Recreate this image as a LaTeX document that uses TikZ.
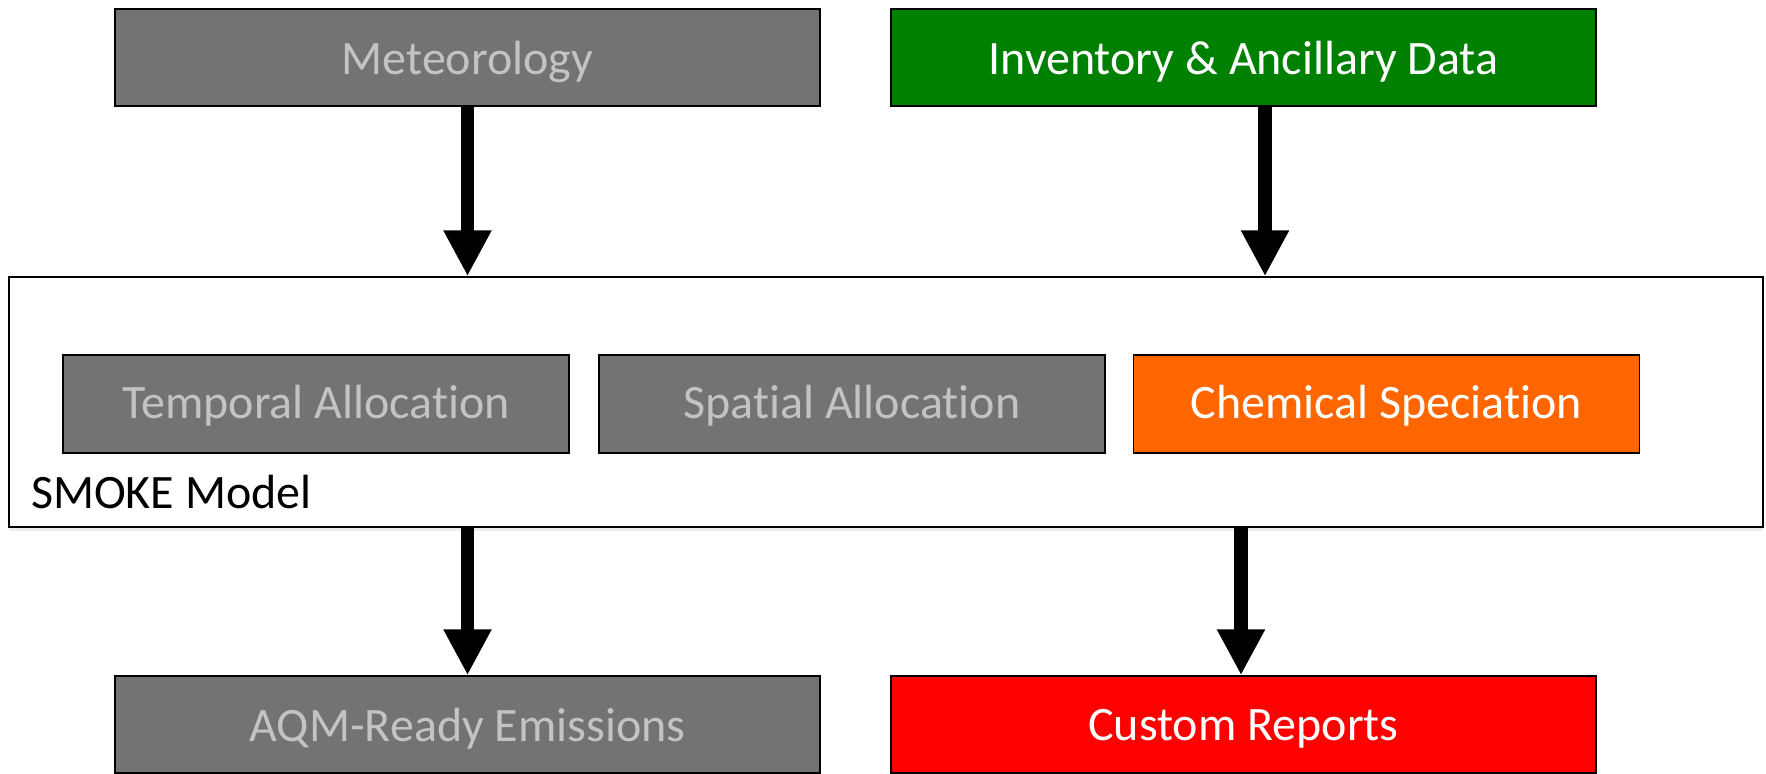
\documentclass[tikz,border=0pt]{standalone}
\usepackage{fontspec}
\setmainfont[Ligatures=NoCommon]{Carlito}
\usetikzlibrary{arrows.meta,calc,shadows}
\definecolor{boxgray}{HTML}{737373}
\definecolor{txtgray}{HTML}{C3C3C3}
\definecolor{invgreen}{HTML}{008000}
\definecolor{chemorange}{HTML}{FF6600}
\definecolor{repred}{HTML}{FF0000}
\tikzset{
  blk/.style={draw=black,line width=0.75pt,inner sep=0pt,
    minimum width=352.5pt,minimum height=48.5pt,text depth=0pt,
    font=\fontsize{24}{29}\selectfont},
  inblk/.style={blk,minimum width=253pt,minimum height=49pt,text depth=2.5pt},
  grayblk/.style={fill=boxgray,text=txtgray},
  fat/.style={line width=6.75pt,-{Triangle[width=22.5pt,length=23pt]}},
}
\begin{document}
\begin{tikzpicture}[x=0.5pt,y=-0.5pt]
  \useasboundingbox (0,0) rectangle (1766,773);
%%
  % Node: smoke
  \node[draw=black,line width=0.75pt,fill=white,inner sep=0pt,
    minimum width=877pt,minimum height=125pt,
    drop shadow={shadow xshift=0pt,shadow yshift=-2pt,opacity=0.15}]
    (smoke) at (886,402) {};
  \node[anchor=west,font=\fontsize{24}{29}\selectfont] (smokelbl) at (24,492) {SMOKE Model};
  % Node: temporal
  \node[inblk,grayblk] (temporal) at (316,404) {Temporal Allocation};
  % Node: spatial
  \node[inblk,grayblk] (spatial) at (852,404) {Spatial Allocation};
  % Node: chem
  \node[inblk,fill=chemorange,text=white] (chem) at (1386.5,404) {Chemical Speciation};
  % Node: met
  \node[blk,grayblk] (met) at (467.5,57.5) {Meteorology};
  % Node: inv
  \node[blk,fill=invgreen,text=white] (inv) at (1243.5,57.5) {Inventory \& Ancillary Data};
  % Node: aqm
  \node[blk,grayblk] (aqm) at (467.5,724.5) {AQM-Ready Emissions};
  % Node: rep
  \node[blk,fill=repred,text=white] (rep) at (1243.5,724.5) {Custom Reports};
%
  % Edge: met -> smoke
  \draw[fat] (met.south) -- (met.south |- smoke.north);
  % Edge: inv -> smoke
  \draw[fat] ([xshift=10.75pt]inv.south) -- ([xshift=10.75pt]inv.south |- smoke.north);
  % Edge: smoke -> aqm
  \draw[fat] (aqm.north |- smoke.south) -- (aqm.north);
  % Edge: smoke -> rep
  \draw[fat] ([xshift=-1.25pt]rep.north |- smoke.south) -- ([xshift=-1.25pt]rep.north);
%
\end{tikzpicture}
\end{document}
